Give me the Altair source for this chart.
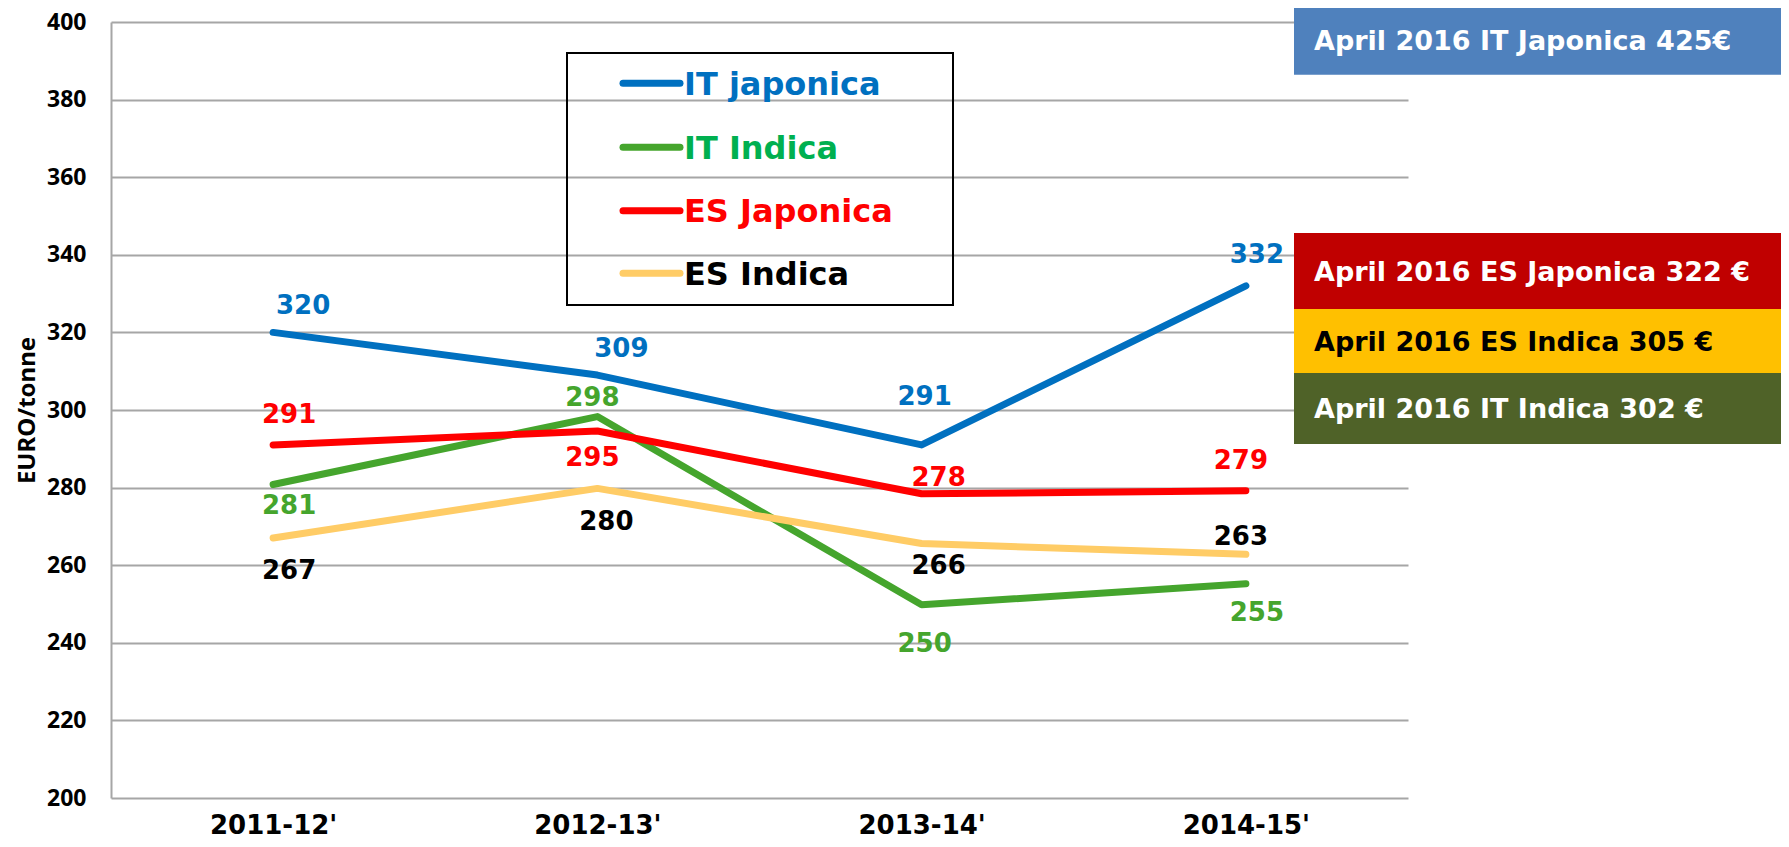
import altair as alt
import pandas as pd

# ---------------- data ----------------
seasons = ["2011-12'", "2012-13'", "2013-14'", "2014-15'"]
series_names = ["IT japonica", "IT Indica", "ES Japonica", "ES Indica"]
it_japonica = [320, 309, 291, 332]
it_indica = [280.8, 298.3, 249.8, 255.2]
es_japonica = [291, 294.6, 278.4, 279.2]
es_indica = [267, 279.8, 265.6, 262.8]
y_ticks = [200, 220, 240, 260, 280, 300, 320, 340, 360, 380, 400]
april_notes = [
    "April 2016 IT Japonica 425€",
    "April 2016 ES Japonica 322 €",
    "April 2016 ES Indica 305 €",
    "April 2016 IT Indica 302 €",
]

# ---------------- layout / style ----------------
W, H = 1297, 776
PAD_L, PAD_T, PAD_R, PAD_B = 103, 14, 373, 41

line_colors = ["#0070C0", "#45A52D", "#FF0000", "#FFCC66"]
value_label_colors = ["#0070C0", "#45A52D", "#FF0000", "#000000"]
legend_text_colors = ["#0070C0", "#00B050", "#FF0000", "#000000"]
note_fills = ["#4F81BD", "#C00000", "#FFC000", "#4F6228"]
note_text_colors = ["#FFFFFF", "#FFFFFF", "#000000", "#FFFFFF"]

# label offsets in pixels (series x season)
label_dx = [[30, 24, 3, 11], [16, -5, 3, 11], [16, -5, 17, -5], [16, 9, 17, -5]]
label_dy = [[-28, -28, -49, -32], [20, -20, 38, 28], [-31, 26, -17, -31], [31, 32, 21, -19]]

LABEL_FS = 26
GRID = "#A6A6A6"

all_series = [it_japonica, it_indica, es_japonica, es_indica]
rows = []
for name, vals in zip(series_names, all_series):
    for s, v in zip(seasons, vals):
        rows.append({"series": name, "season": s, "value": v})
df = pd.DataFrame(rows)

x_enc = alt.X(
    "season:N",
    sort=seasons,
    scale=alt.Scale(domain=seasons, type="point", padding=0.5),
    axis=alt.Axis(
        title=None, labelAngle=0, labelFont="DejaVu Sans", labelFontWeight="bold",
        labelFontSize=26, labelColor="#000000", labelPadding=35, labelBaseline="alphabetic",
        domain=False, ticks=False, grid=False,
    ),
)
y_enc = alt.Y(
    "value:Q",
    scale=alt.Scale(domain=[200, 400], nice=False, zero=False),
    axis=alt.Axis(
        values=y_ticks, title="EURO/tonne", titleFont="Noto Sans", titleFontSize=24,
        titleFontWeight="bold", titleColor="#000000", titleAngle=270, titleX=-84,
        titleY=H / 2, titleAlign="center", titleBaseline="middle",
        labelFont="Noto Sans", labelFontSize=23, labelFontWeight="bold", labelColor="#000000",
        labelPadding=25, ticks=False, domainColor=GRID, domainWidth=2,
        gridColor=GRID, gridWidth=2,
    ),
)

layers = []

lines = alt.Chart(df).mark_line(strokeWidth=7, strokeCap="round", strokeJoin="round").encode(
    x=x_enc,
    y=y_enc,
    color=alt.Color("series:N", scale=alt.Scale(domain=series_names, range=line_colors), legend=None),
)
layers.append(lines)

# value labels
for i, name in enumerate(series_names):
    for j, s in enumerate(seasons):
        sub = df[(df["series"] == name) & (df["season"] == s)]
        t = alt.Chart(sub).mark_text(
            font="DejaVu Sans", fontWeight="bold", fontSize=LABEL_FS,
            color=value_label_colors[i], align="center", baseline="alphabetic",
            dx=label_dx[i][j], dy=label_dy[i][j] + 0.365 * LABEL_FS,
        ).encode(x=x_enc, y=y_enc, text=alt.Text("value:Q", format=".0f"))
        layers.append(t)

# legend box
leg_box = alt.Chart(pd.DataFrame({"a": [0]})).mark_rect(
    fillOpacity=0, stroke="#000000", strokeWidth=2
).encode(x=alt.value(456), x2=alt.value(842), y=alt.value(31), y2=alt.value(283))
layers.append(leg_box)

leg_y = [61.3, 125.3, 188.7, 251.3]
LEG_FS = 32
for i, name in enumerate(series_names):
    seg = alt.Chart(pd.DataFrame({"a": [0]})).mark_rule(
        color=line_colors[i], strokeWidth=7, strokeCap="round"
    ).encode(x=alt.value(512), x2=alt.value(569), y=alt.value(leg_y[i]))
    txt = alt.Chart(pd.DataFrame({"t": [name]})).mark_text(
        font="DejaVu Sans", fontWeight="bold", fontSize=LEG_FS, color=legend_text_colors[i],
        align="left", baseline="alphabetic",
    ).encode(x=alt.value(573), y=alt.value(leg_y[i] + 0.365 * LEG_FS), text="t:N")
    layers += [seg, txt]

# April 2016 notes on the right
note_y = [(-16, 52.7), (211, 287), (287, 351), (351, 422)]
NOTE_FS = 27
for i, note in enumerate(april_notes):
    y0, y1 = note_y[i]
    box = alt.Chart(pd.DataFrame({"a": [0]})).mark_rect(fill=note_fills[i]).encode(
        x=alt.value(1183), x2=alt.value(W + PAD_R), y=alt.value(y0), y2=alt.value(y1)
    )
    txt = alt.Chart(pd.DataFrame({"t": [note]})).mark_text(
        font="DejaVu Sans", fontWeight="bold", fontSize=NOTE_FS, color=note_text_colors[i],
        align="left", baseline="alphabetic",
    ).encode(x=alt.value(1203), y=alt.value((y0 + y1) / 2 + 0.365 * NOTE_FS), text="t:N")
    layers += [box, txt]

chart = (
    alt.layer(*layers)
    .properties(
        width=W,
        height=H,
        autosize=alt.AutoSizeParams(type="none"),
        padding={"left": PAD_L, "top": PAD_T, "right": PAD_R, "bottom": PAD_B},
        background="#FFFFFF",
    )
    .configure_view(strokeWidth=0)
)

chart.save("out.html", embed_options={"renderer": "svg", "actions": False})
